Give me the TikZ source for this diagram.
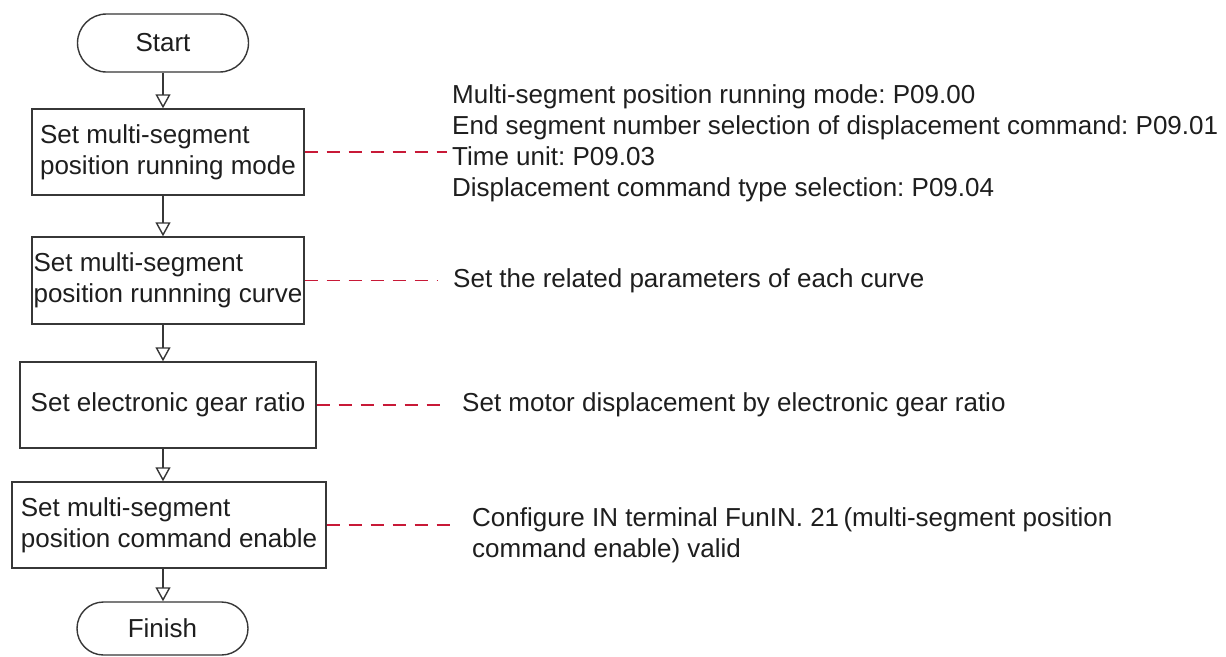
\documentclass[tikz,border=0pt]{standalone}
\usepackage{fontspec}
\setmainfont{Liberation Sans}
\usetikzlibrary{shapes.misc,arrows.meta}
\definecolor{linec}{RGB}{55,55,55}
\definecolor{dashc}{RGB}{200,25,55}
\definecolor{txtc}{RGB}{30,30,30}
\frenchspacing
\begin{document}
\begin{tikzpicture}[x=1pt,y=-1pt,
  every node/.style={font=\fontsize{26}{31}\selectfont, text=txtc},
  term/.style={draw=linec, line width=1.4pt, rounded rectangle, minimum width=171pt, inner sep=0pt},
  procbox/.style={draw=linec, line width=1.4pt, rectangle, align=left, inner sep=0pt, minimum height=86pt},
  flowarrow/.style={draw=linec, line width=1.4pt, -{Triangle[open, length=14pt, width=15pt, line width=1.4pt]}},
  note/.style={draw=dashc, line width=1.3pt, dash pattern=on 13pt off 9pt},
  notetext/.style={align=left, inner ysep=0pt}]
\fill[white] (0,0) rectangle (1226,656);
\useasboundingbox (0,0) rectangle (1226,656);
\node[term, minimum height=58pt] (start) at (163,43) {Start};
\node[procbox, minimum width=272pt] (b1) at (168,152) {Set multi-segment\\position running mode};
\node[procbox, minimum width=272pt, minimum height=87pt] (b2) at (168,280.5) {Set multi-segment\\position runnning curve};
\node[procbox, minimum width=296pt] (b3) at (168,405) {Set electronic gear ratio};
\node[procbox, minimum width=314pt] (b4) at (169,525) {Set multi-segment\\position command enable};
\node[term, minimum height=53pt] (finish) at (162.5,628.5) {Finish};
\node[notetext, anchor=north west, inner xsep=5pt] (t1) at (447,84.4) {Multi-segment position running mode: P09.00\\End segment number selection of displacement command: P09.01\\Time unit: P09.03\\Displacement command type selection: P09.04};
\node[notetext, anchor=west, inner xsep=15pt] (t2) at (438,280.5) {Set the related parameters of each curve};
\node[notetext, anchor=west, inner xsep=15pt] (t3) at (447,405) {Set motor displacement by electronic gear ratio};
\node[notetext, anchor=north west, inner xsep=15pt] (t4) at (457,507.4) {Configure IN terminal FunIN. 21\,(multi-segment position\\command enable) valid};
\draw[note] (b1.east) -- (b1.east -| t1.west);
\draw[note] (b2.east) -- (b2.east -| t2.west);
\draw[note] (b3.east) -- (b3.east -| t3.west);
\draw[note] (b4.east) -- (b4.east -| t4.west);
\draw[flowarrow] (start.south) -- (start.south |- b1.north);
\draw[flowarrow] (start.south |- b1.south) -- (start.south |- b2.north);
\draw[flowarrow] (start.south |- b2.south) -- (start.south |- b3.north);
\draw[flowarrow] (start.south |- b3.south) -- (start.south |- b4.north);
\draw[flowarrow] (start.south |- b4.south) -- (start.south |- finish.north);
\end{tikzpicture}
\end{document}
